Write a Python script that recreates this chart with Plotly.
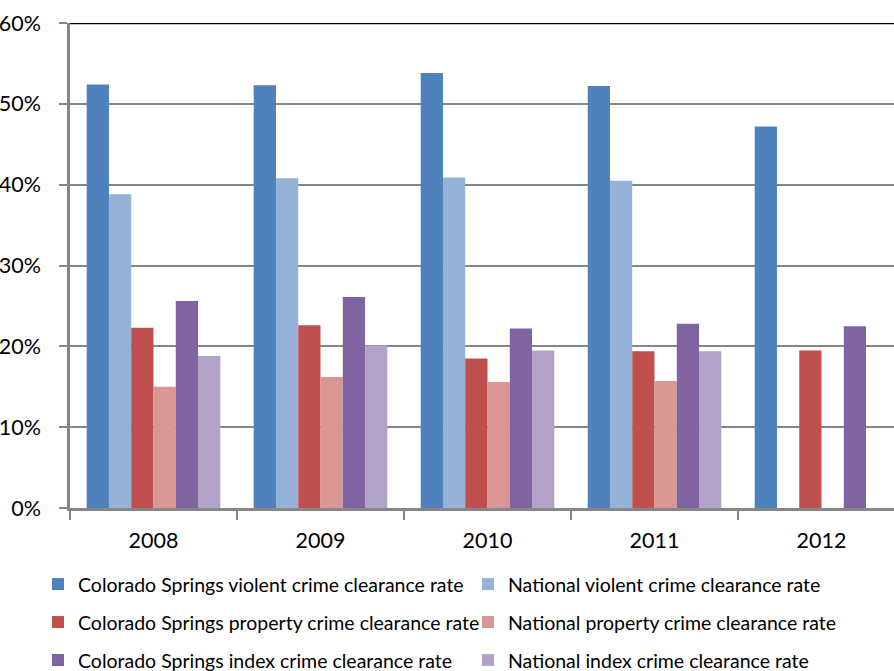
import plotly.graph_objects as go

years = ["2008", "2009", "2010", "2011", "2012"]
cs_violent = [52.4, 52.3, 53.8, 52.2, 47.2]
nat_violent = [38.8, 40.8, 40.9, 40.5, None]
cs_property = [22.3, 22.6, 18.5, 19.4, 19.5]
nat_property = [15.0, 16.2, 15.6, 15.7, None]
cs_index = [25.6, 26.1, 22.2, 22.8, 22.5]
nat_index = [18.8, 20.1, 19.5, 19.4, None]

series_names = [
    "Colorado Springs violent crime clearance rate",
    "National violent crime clearance rate",
    "Colorado Springs property crime clearance rate",
    "National property crime clearance rate",
    "Colorado Springs index crime clearance rate",
    "National index crime clearance rate",
]
series_values = [cs_violent, nat_violent, cs_property, nat_property, cs_index, nat_index]
colors = ["#4F81BD", "#95B3D7", "#C0504D", "#DA9694", "#8064A2", "#B3A2C7"]
legend_ids = ["legend", "legend", "legend2", "legend2", "legend3", "legend3"]
y_ticks = [0, 10, 20, 30, 40, 50, 60]
y_tick_labels = ["0%", "10%", "20%", "30%", "40%", "50%", "60%"]

FONT = "Lato"
W, H = 894, 671
ML, MR, MT, MB = 70, 0, 23, 162.5
plot_w = W - ML - MR
plot_h = H - MT - MB

fig = go.Figure()
for name, vals, col, lg in zip(series_names, series_values, colors, legend_ids):
    fig.add_trace(go.Bar(
        x=years, y=vals, name=name, legend=lg,
        marker=dict(color=col, line=dict(width=0)),
    ))

cat_px = 167.0
x_hi = -0.5 + plot_w / cat_px

def legend_cfg(ypix):
    return dict(
        orientation="h", x=(38 - ML) / plot_w, xanchor="left",
        y=1 - (ypix - MT) / plot_h, yanchor="middle",
        entrywidth=385, entrywidthmode="pixels",
        font=dict(family=FONT, size=19.5, color="#000000"),
        bgcolor="rgba(0,0,0,0)", itemclick=False, itemdoubleclick=False,
    )

fig.update_layout(
    width=W, height=H,
    margin=dict(l=ML, r=MR, t=MT, b=MB, pad=0, autoexpand=False),
    paper_bgcolor="white", plot_bgcolor="white",
    barmode="group", bargap=0.2, bargroupgap=0,
    font=dict(family=FONT, size=19.5, color="#000000"),
    xaxis=dict(
        type="category", range=[-0.5, x_hi],
        showgrid=False, showline=True, linecolor="#868686", linewidth=2.5,
        ticks="outside", tickson="boundaries", ticklen=9, tickwidth=2, tickcolor="#868686",
        ticklabelstandoff=11,
        tickfont=dict(family=FONT, size=21.5, color="#000000"),
        fixedrange=True,
    ),
    yaxis=dict(
        range=[0, 60], tickvals=y_ticks, ticktext=y_tick_labels,
        showgrid=True, gridcolor="#868686", gridwidth=1.6,
        showline=True, linecolor="#868686", linewidth=2.5,
        ticks="outside", ticklen=8, tickwidth=2, tickcolor="#868686",
        ticklabelstandoff=14,
        tickfont=dict(family=FONT, size=21.5, color="#000000"),
        zeroline=False, fixedrange=True,
    ),
    legend=legend_cfg(585),
    legend2=legend_cfg(623),
    legend3=legend_cfg(661),
    shapes=[dict(type="line", xref="paper", yref="y", x0=0, x1=1, y0=60, y1=60,
                 line=dict(color="#000000", width=2.5))],
)

fig.write_html(
    "out.html",
    config={"displayModeBar": False},
    post_script="document.body.style.margin='0';document.body.style.overflow='hidden';",
)
